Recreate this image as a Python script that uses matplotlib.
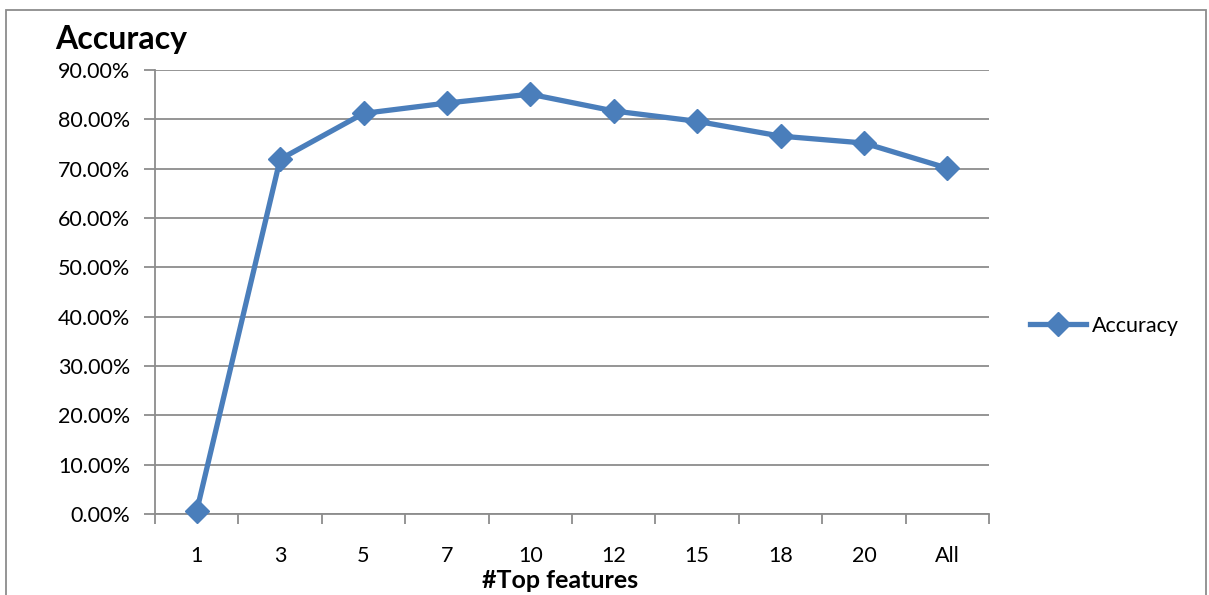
import matplotlib
matplotlib.use("Agg")
import matplotlib.pyplot as plt
from matplotlib.patches import Rectangle
from matplotlib.ticker import FuncFormatter, FixedLocator

categories = ["1", "3", "5", "7", "10", "12", "15", "18", "20", "All"]
accuracy = [0.006, 0.719, 0.812, 0.833, 0.851, 0.817, 0.796, 0.766, 0.752, 0.701]
y_ticks = [0.0, 0.1, 0.2, 0.3, 0.4, 0.5, 0.6, 0.7, 0.8, 0.9]

plt.rcParams['font.family'] = ['Lato', 'DejaVu Sans']

W, H = 1209, 595
fig = plt.figure(figsize=(W / 100, H / 100), dpi=100)
ax = fig.add_axes([155 / W, 1 - 514 / H, (989 - 155) / W, (514 - 70) / H])

blue = '#4A7EBB'
grid = '#8C8C8C'
x = list(range(len(categories)))
ax.plot(x, accuracy, color=blue, lw=3.8, marker='D', markersize=12,
        markeredgecolor=blue, markerfacecolor=blue, label='Accuracy', zorder=3,
        clip_on=False)

ax.set_xlim(-0.5, len(categories) - 0.5)
ax.set_ylim(0, 0.9)
ax.set_yticks(y_ticks)
ax.yaxis.set_major_formatter(FuncFormatter(lambda v, p: f"{v*100:.2f}%"))
ax.yaxis.grid(True, color=grid, lw=1.3)
ax.set_axisbelow(True)

ax.set_xticks(x)
ax.set_xticklabels(categories)
ax.xaxis.set_minor_locator(FixedLocator([i - 0.5 for i in range(len(categories) + 1)]))
ax.tick_params(axis='x', which='major', length=0, pad=23, labelsize=15.5)
ax.tick_params(axis='x', which='minor', length=7, width=1.3, color=grid, direction='out')
ax.tick_params(axis='y', length=8, width=1.3, color=grid, pad=10, labelsize=15.5)

for s in ['top', 'right']:
    ax.spines[s].set_visible(False)
for s in ['left', 'bottom']:
    ax.spines[s].set_color(grid)
    ax.spines[s].set_linewidth(1.3)

fig.text(55 / W, 1 - 40 / H, 'Accuracy', fontsize=23, fontweight='bold', va='center', ha='left')
fig.text(560 / W, 1 - 581 / H, '#Top features', fontsize=18, fontweight='bold', va='center', ha='center')

leg = ax.legend(loc='center left', bbox_to_anchor=(1030 / W, 1 - 326 / H),
                bbox_transform=fig.transFigure, frameon=False, fontsize=15.5,
                handlelength=2.6, handletextpad=0.3, borderaxespad=0, borderpad=0)

fig.patches.append(Rectangle((6 / W, -0.1), (1206 - 6) / W, 1 - 10 / H + 0.1,
                             transform=fig.transFigure, fill=False,
                             edgecolor='#8C8C8C', lw=1.3))

fig.savefig('out.png', dpi=100)
